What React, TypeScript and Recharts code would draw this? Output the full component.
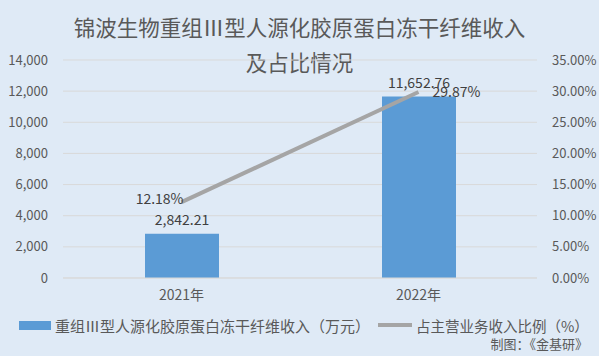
import {
  ComposedChart,
  Bar,
  Line,
  XAxis,
  YAxis,
  CartesianGrid,
  LabelList,
} from 'recharts'

const years = ['2021年', '2022年']
const revenue = [2842.21, 11652.76] // 万元
const share = [12.18, 29.87] // %
const leftTicks = [0, 2000, 4000, 6000, 8000, 10000, 12000, 14000]
const rightTicks = [0, 5, 10, 15, 20, 25, 30, 35]

const data = years.map((year, i) => ({
  year,
  revenue: revenue[i],
  share: share[i],
}))

const FONT = '"Noto Sans CJK SC", "Noto Sans", sans-serif'
const TEXT = '#595959'
const BAR = '#5b9bd5'
const LINE = '#a5a5a5'

const fmtNum = (v: number) =>
  v.toLocaleString('en-US', { minimumFractionDigits: 0, maximumFractionDigits: 2 })

// excel style: first point label sits left, second sits right
const ShareLabel = (props: any) => {
  const { x, y, value, index } = props
  const first = index === 0
  return (
    <text
      x={first ? x + 2 : x + 14}
      y={first ? y - 3 : y}
      dy="0.35em"
      textAnchor={first ? 'end' : 'start'}
      fill="#404040"
      fontSize={14}
      fontFamily={FONT}
    >
      {`${Number(value).toFixed(2)}%`}
    </text>
  )
}

const legendRow = {
  position: 'absolute' as const,
  top: 315,
  height: 20,
  display: 'flex',
  alignItems: 'center',
  color: TEXT,
  whiteSpace: 'nowrap' as const,
}

export default function App() {
  return (
    <div
      style={{
        position: 'absolute',
        left: 0,
        top: 0,
        width: 599,
        height: 356,
        background: '#dfeaf6',
        fontFamily: FONT,
        overflow: 'hidden',
      }}
    >
      <div
        style={{
          position: 'absolute',
          top: 9,
          left: 0,
          width: 599,
          textAlign: 'center',
          fontSize: 21.5,
          lineHeight: '35px',
          color: TEXT,
        }}
      >
        <div>锦波生物重组Ⅲ型人源化胶原蛋白冻干纤维收入</div>
        <div>及占比情况</div>
      </div>

      <ComposedChart
        width={599}
        height={356}
        data={data}
        margin={{ top: 60, right: 0, bottom: 48, left: 0 }}
        barCategoryGap="34%"
        style={{ position: 'absolute', left: 0, top: 0 }}
      >
        <CartesianGrid stroke="#d9d9d9" vertical={false} yAxisId="left" />
        <XAxis
          dataKey="year"
          height={30}
          axisLine={{ stroke: '#d9d9d9' }}
          tickLine={false}
          tickMargin={6}
          tick={{ fill: TEXT, fontSize: 14, fontFamily: FONT }}
        />
        <YAxis
          yAxisId="left"
          width={63}
          domain={[0, 14000]}
          ticks={leftTicks}
          tickFormatter={(v: number) => v.toLocaleString('en-US')}
          axisLine={false}
          tickLine={false}
          tickMargin={9}
          tick={{ fill: TEXT, fontSize: 13, fontFamily: FONT }}
        />
        <YAxis
          yAxisId="right"
          orientation="right"
          width={62}
          domain={[0, 35]}
          ticks={rightTicks}
          tickFormatter={(v: number) => `${v.toFixed(2)}%`}
          axisLine={false}
          tickLine={false}
          tickMargin={9}
          tick={{ fill: TEXT, fontSize: 13, fontFamily: FONT, textAnchor: 'start' }}
        />
        <Bar yAxisId="left" dataKey="revenue" fill={BAR} barSize={74} isAnimationActive={false}>
          <LabelList
            dataKey="revenue"
            position="top"
            offset={9}
            formatter={(v: any) => fmtNum(Number(v))}
            fill="#404040"
            fontSize={14}
            fontFamily={FONT}
          />
        </Bar>
        <Line
          yAxisId="right"
          dataKey="share"
          stroke={LINE}
          strokeWidth={4}
          dot={false}
          activeDot={false}
          isAnimationActive={false}
        >
          <LabelList dataKey="share" content={ShareLabel} />
        </Line>
      </ComposedChart>

      {/* legend */}
      <div style={{ ...legendRow, left: 19, fontSize: 15 }}>
        <span style={{ display: 'inline-block', width: 32, height: 9, background: BAR, marginRight: 4 }} />
        <span>重组Ⅲ型人源化胶原蛋白冻干纤维收入（万元）</span>
      </div>
      <div style={{ ...legendRow, left: 378, fontSize: 14.5 }}>
        <span style={{ display: 'inline-block', width: 34, height: 4, background: LINE, marginRight: 4 }} />
        <span>占主营业务收入比例（%）</span>
      </div>

      <div
        style={{
          position: 'absolute',
          right: 11,
          top: 336,
          fontSize: 13,
          lineHeight: '16px',
          color: TEXT,
          whiteSpace: 'nowrap',
        }}
      >
        制图：《金基研》
      </div>
    </div>
  )
}
